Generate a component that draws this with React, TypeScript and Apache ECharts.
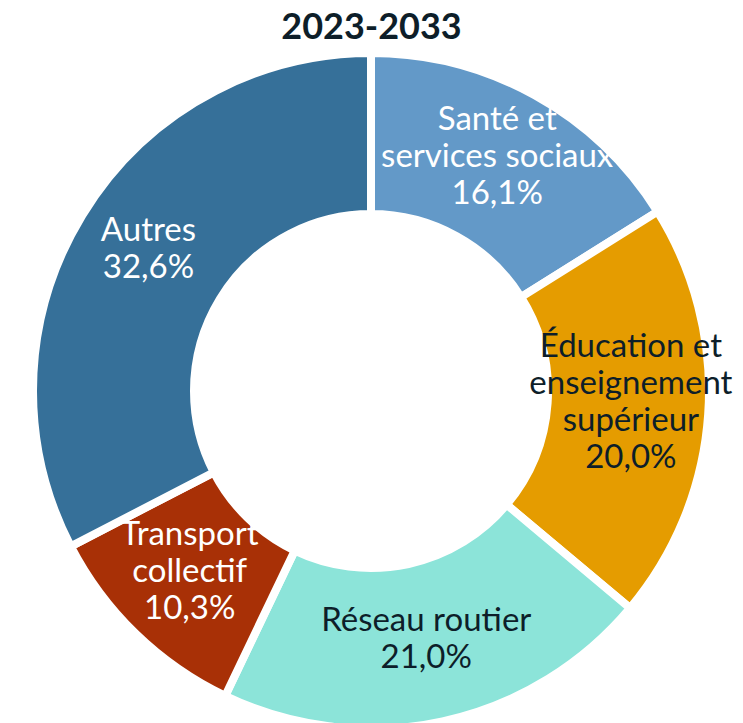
import React, { useEffect, useRef } from "react";
import * as echarts from "echarts";

const titleText = "2023-2033";
const categories = [
  "Santé et\nservices sociaux",
  "Éducation et\nenseignement\nsupérieur",
  "Réseau routier",
  "Transport\ncollectif",
  "Autres",
];
const shares = [16.1, 20.0, 21.0, 10.3, 32.6];
const colors = ["#6399C8", "#E59C00", "#8CE4D9", "#A83006", "#367099"];
const labelColors = ["#FFFFFF", "#0D1E29", "#0D1E29", "#FFFFFF", "#FFFFFF"];

export default function App() {
  const ref = useRef<HTMLDivElement>(null);
  useEffect(() => {
    if (!ref.current) return;
    const chart = echarts.init(ref.current, null, { renderer: "svg" });
    chart.setOption({
      animation: false,
      title: {
        text: titleText,
        left: "center",
        top: 2,
        textStyle: {
          fontFamily: "Lato",
          fontWeight: "bold",
          fontSize: 36,
          color: "#0D1E29",
        },
      },
      series: [
        {
          type: "pie",
          center: [371, 391],
          radius: [177, 338],
          startAngle: 90,
          clockwise: true,
          avoidLabelOverlap: false,
          itemStyle: { borderColor: "#FFFFFF", borderWidth: 8 },
          label: {
            show: true,
            position: "inside",
            fontFamily: "Lato",
            fontWeight: "normal",
            fontSize: 33,
            lineHeight: 37,
            align: "center",
            formatter: (p: any) =>
              `${p.name}\n${Number(p.value).toFixed(1).replace(".", ",")}%`,
          },
          labelLayout: { dy: -9 },
          labelLine: { show: false },
          emphasis: { disabled: true },
          data: categories.map((name, i) => ({
            name,
            value: shares[i],
            itemStyle: { color: colors[i] },
            label: { color: labelColors[i] },
          })),
        },
      ],
    });
    return () => chart.dispose();
  }, []);
  return (
    <div
      ref={ref}
      style={{ position: "fixed", left: 0, top: 0, width: 743, height: 723, background: "#fff" }}
    />
  );
}
